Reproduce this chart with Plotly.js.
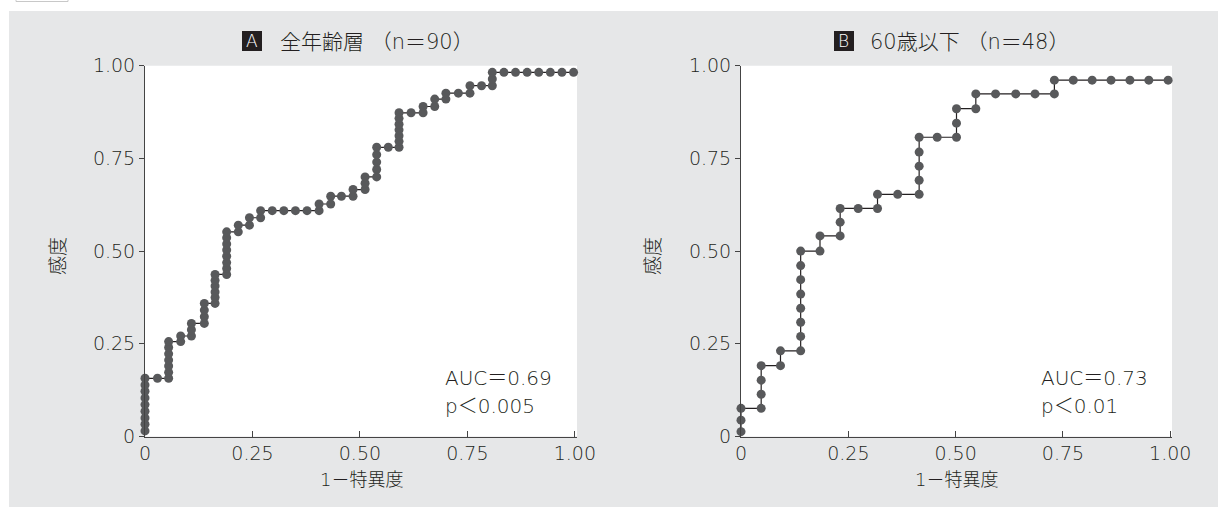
<!DOCTYPE html>
<html>
<head>
<meta charset="utf-8">
<script src="https://cdn.plot.ly/plotly-3.0.1.min.js"></script>
<style>
  html, body { margin: 0; padding: 0; background: #ffffff; }
  #chart { width: 1227px; height: 507px; }
</style>
</head>
<body>
<div id="chart"></div>
<script>
// ---- Data ----
// Panel A: all ages (n=90)
const rocA_fpr = [
  0, 0, 0, 0, 0, 0, 0, 0, 0,
  0.029,
  0.055, 0.055, 0.055, 0.055, 0.055, 0.055, 0.055,
  0.083, 0.083,
  0.108, 0.108, 0.108,
  0.138, 0.138, 0.138, 0.138,
  0.163, 0.163, 0.163, 0.163, 0.163, 0.163,
  0.190, 0.190, 0.190, 0.190, 0.190, 0.190, 0.190, 0.190,
  0.217, 0.217,
  0.243, 0.243,
  0.269, 0.269,
  0.296, 0.323, 0.350, 0.377,
  0.405, 0.405,
  0.432, 0.432,
  0.457,
  0.484, 0.484,
  0.512, 0.512, 0.512,
  0.539, 0.539, 0.539, 0.539, 0.539,
  0.566,
  0.591, 0.591, 0.591, 0.591, 0.591, 0.591, 0.591,
  0.619,
  0.647, 0.647,
  0.674, 0.674,
  0.700, 0.700,
  0.729,
  0.756, 0.756,
  0.783,
  0.808, 0.808, 0.808,
  0.835, 0.862, 0.889, 0.916, 0.943, 0.970, 0.997
];
const rocA_tpr = [
  0.015, 0.033, 0.050, 0.068, 0.086, 0.104, 0.122, 0.139, 0.157,
  0.157,
  0.157, 0.173, 0.190, 0.206, 0.223, 0.240, 0.256,
  0.256, 0.271,
  0.271, 0.288, 0.305,
  0.305, 0.323, 0.341, 0.359,
  0.359, 0.375, 0.390, 0.406, 0.421, 0.437,
  0.437, 0.453, 0.469, 0.486, 0.503, 0.519, 0.536, 0.552,
  0.552, 0.570,
  0.570, 0.590,
  0.590, 0.609,
  0.609, 0.609, 0.609, 0.609,
  0.609, 0.627,
  0.627, 0.648,
  0.648,
  0.648, 0.666,
  0.666, 0.683, 0.700,
  0.700, 0.720, 0.740, 0.760, 0.780,
  0.780,
  0.780, 0.796, 0.811, 0.827, 0.842, 0.858, 0.873,
  0.873,
  0.873, 0.890,
  0.890, 0.910,
  0.910, 0.926,
  0.926,
  0.926, 0.946,
  0.946,
  0.946, 0.964, 0.982,
  0.982, 0.982, 0.982, 0.982, 0.982, 0.982, 0.982
];

// Panel B: age 60 and under (n=48)
const rocB_fpr = [
  0, 0, 0,
  0.047, 0.047, 0.047, 0.047,
  0.092, 0.092,
  0.139, 0.139, 0.139, 0.139, 0.139, 0.139, 0.139, 0.139,
  0.184, 0.184,
  0.231, 0.231, 0.231,
  0.273,
  0.318, 0.318,
  0.365,
  0.415, 0.415, 0.415, 0.415, 0.415,
  0.457,
  0.502, 0.502, 0.502,
  0.547, 0.547,
  0.593, 0.640, 0.685,
  0.730, 0.730,
  0.774, 0.818, 0.862, 0.906, 0.950, 0.995
];
const rocB_tpr = [
  0.013, 0.044, 0.076,
  0.076, 0.114, 0.152, 0.191,
  0.191, 0.231,
  0.231, 0.270, 0.308, 0.346, 0.384, 0.423, 0.461, 0.500,
  0.500, 0.541,
  0.541, 0.578, 0.615,
  0.615,
  0.615, 0.653,
  0.653,
  0.653, 0.691, 0.729, 0.767, 0.807,
  0.807,
  0.807, 0.845, 0.884,
  0.884, 0.924,
  0.924, 0.924, 0.924,
  0.924, 0.961,
  0.961, 0.961, 0.961, 0.961, 0.961, 0.961
];

const tickVals = [0, 0.25, 0.5, 0.75, 1];
const tickText = ['0', '0.25', '0.50', '0.75', '1.00'];

const panelTitles = ['全年齢層 （n＝90）', '60歳以下 （n＝48）'];
const panelBadges = ['A', 'B'];
const aucLabels = ['AUC＝0.69', 'AUC＝0.73'];
const pLabels = ['p＜0.005', 'p＜0.01'];
const xTitle = '1－特異度';
const yTitle = '感度';

// ---- Layout helpers (pixel -> paper) ----
const W = 1227, H = 507;
const px = v => v / W;
const py = v => 1 - v / H;

const FONT = '"Noto Sans CJK JP", "Noto Sans", sans-serif';
const NUMFONT = '"DejaVu Sans", "Noto Sans CJK JP", sans-serif';
const TXT = '#231f20';
const DOT = '#58595b';
const LINE = '#231f20';
const GRAY = '#e6e7e8';

const yDom = [py(436.5), py(65.7)];
const xDomA = [px(145), px(577)];
const xDomB = [px(741), px(1172)];

function f(size, color, weight, family) {
  return {family: family || FONT, size: size, color: color || TXT, weight: weight || 300};
}

function xAxis(dom, anchor) {
  return {
    domain: dom, range: [0, 1.005], anchor: anchor,
    tickvals: tickVals, ticktext: tickText,
    ticks: 'inside', ticklen: 6, tickwidth: 1, tickcolor: '#444',
    showline: true, linecolor: '#444', linewidth: 1,
    showgrid: false, zeroline: false, fixedrange: true,
    tickfont: f(19, TXT, 200, NUMFONT),
    ticklabelstandoff: 0
  };
}
function yAxis(anchor) {
  return {
    domain: yDom, range: [0, 1], anchor: anchor,
    tickvals: tickVals, ticktext: tickText,
    ticks: 'outside', ticklen: 5, tickwidth: 1, tickcolor: '#444',
    showline: true, linecolor: '#444', linewidth: 1,
    showgrid: false, zeroline: false, fixedrange: true,
    tickfont: f(19, TXT, 200, NUMFONT)
  };
}

function rocTrace(xs, ys, xa, ya) {
  return {
    type: 'scatter', mode: 'lines+markers',
    x: xs, y: ys, xaxis: xa, yaxis: ya,
    line: {color: LINE, width: 1.2},
    marker: {color: DOT, size: 9, line: {width: 0}},
    cliponaxis: false, hoverinfo: 'skip', showlegend: false
  };
}

const data = [
  rocTrace(rocA_fpr, rocA_tpr, 'x', 'y'),
  rocTrace(rocB_fpr, rocB_tpr, 'x2', 'y2')
];

const shapes = [
  // outer gray panel
  {type: 'rect', xref: 'paper', yref: 'paper', layer: 'below',
   x0: px(9), x1: px(1218), y0: 0, y1: py(11), fillcolor: GRAY, line: {width: 0}},
  // small tab at top-left
  {type: 'rect', xref: 'paper', yref: 'paper', layer: 'below',
   x0: px(16), x1: px(68), y0: py(1.5), y1: py(-5), fillcolor: '#ffffff', line: {color: '#c8c8c8', width: 1}},
  // white plot areas
  {type: 'rect', xref: 'paper', yref: 'paper', layer: 'below',
   x0: xDomA[0], x1: xDomA[1], y0: yDom[0], y1: yDom[1], fillcolor: '#ffffff', line: {width: 0}},
  {type: 'rect', xref: 'paper', yref: 'paper', layer: 'below',
   x0: xDomB[0], x1: xDomB[1], y0: yDom[0], y1: yDom[1], fillcolor: '#ffffff', line: {width: 0}},
  // badges
  {type: 'rect', xref: 'paper', yref: 'paper', layer: 'above',
   x0: px(242), x1: px(262), y0: py(51), y1: py(31), fillcolor: '#231f20', line: {width: 0}},
  {type: 'rect', xref: 'paper', yref: 'paper', layer: 'above',
   x0: px(834), x1: px(854), y0: py(51), y1: py(31), fillcolor: '#231f20', line: {width: 0}}
];

function ann(text, x, y, opts) {
  return Object.assign({
    text: text, xref: 'paper', yref: 'paper', x: px(x), y: py(y),
    showarrow: false, xanchor: 'center', yanchor: 'middle',
    font: f(20, TXT, 200, NUMFONT)
  }, opts || {});
}

const annotations = [
  ann(panelBadges[0], 252, 41.5, {font: f(17, '#ffffff', 300, NUMFONT)}),
  ann(panelTitles[0], 278, 42, {xanchor: 'left', font: f(21, TXT, 300, NUMFONT)}),
  ann(panelBadges[1], 844, 41.5, {font: f(17, '#ffffff', 300, NUMFONT)}),
  ann(panelTitles[1], 868, 42, {xanchor: 'left', font: f(21, TXT, 300, NUMFONT)}),
  ann(aucLabels[0], 443, 378, {xanchor: 'left'}),
  ann(pLabels[0], 443, 406, {xanchor: 'left'}),
  ann(aucLabels[1], 1039, 378, {xanchor: 'left'}),
  ann(pLabels[1], 1039, 406, {xanchor: 'left'}),
  ann(xTitle, 361, 479, {font: f(18, TXT, 200, NUMFONT)}),
  ann(xTitle, 956, 479, {font: f(18, TXT, 200, NUMFONT)}),
  ann(yTitle, 56, 256, {textangle: -90, font: f(19, TXT, 300)}),
  ann(yTitle, 651, 256, {textangle: -90, font: f(19, TXT, 300)})
];

const layout = {
  width: W, height: H,
  margin: {l: 0, r: 0, t: 0, b: 0, pad: 0},
  paper_bgcolor: '#ffffff',
  plot_bgcolor: 'rgba(0,0,0,0)',
  showlegend: false,
  xaxis: xAxis(xDomA, 'y'),
  yaxis: yAxis('x'),
  xaxis2: Object.assign(xAxis(xDomB, 'y2'), {range: [0, 1.004]}),
  yaxis2: yAxis('x2'),
  shapes: shapes,
  annotations: annotations,
  font: {family: FONT, color: TXT}
};

Plotly.newPlot('chart', data, layout, {staticPlot: true, displayModeBar: false});
</script>
</body>
</html>
